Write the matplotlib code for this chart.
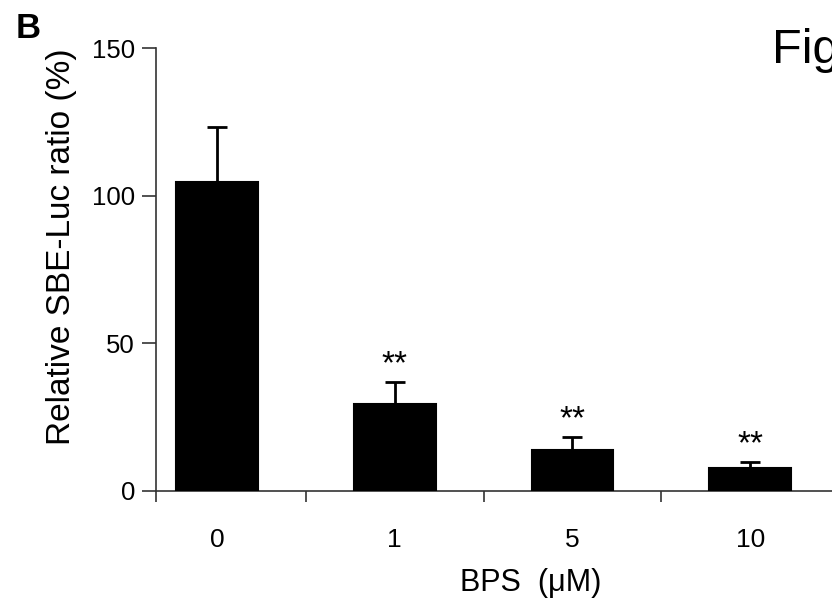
"""
Bar chart of relative SBE-Luc ratio vs BPS concentration (panel B).
"""
import matplotlib
matplotlib.use("Agg")
import matplotlib.pyplot as plt

plt.rcParams['font.family'] = ['Liberation Sans', 'DejaVu Sans']

# data
doses = ['0', '1', '5', '10']
ratio = [104.7, 29.3, 13.8, 7.6]
err = [18.7, 7.6, 4.3, 2.0]
signif = ['', '**', '**', '**']

fig = plt.figure(figsize=(8.32, 6.05), dpi=100)
ax = fig.add_axes([0.1875, 0.189, 0.8125, 0.731])

x = list(range(len(doses)))
ax.bar(x, ratio, width=0.46, color='black', edgecolor='black', linewidth=1.5, zorder=3)
ax.errorbar(x, ratio, yerr=[[0] * len(err), err], fmt='none', ecolor='black',
            elinewidth=2, capsize=7, capthick=2, zorder=2)

for xi, v, e, s in zip(x, ratio, err, signif):
    if s:
        ax.text(xi, v + e + 3, s, ha='center', va='baseline', fontsize=24)

ax.set_xlim(-0.343, 3.46)
ax.set_ylim(0, 150)
ax.set_yticks([0, 50, 100, 150])
ax.set_xticks(x)
ax.set_xticklabels(doses)
ax.set_xticks([-0.343, 0.5, 1.5, 2.5], minor=True)

# axis styling
for side in ['top', 'right']:
    ax.spines[side].set_visible(False)
for side in ['left', 'bottom']:
    ax.spines[side].set_color('#333333')
    ax.spines[side].set_linewidth(1.2)
ax.tick_params(axis='y', direction='out', length=10, width=1.2, color='#333333',
               labelsize=18.5, pad=5)
ax.tick_params(axis='x', which='major', length=0, labelsize=19, pad=27)
ax.tick_params(axis='x', which='minor', direction='out', length=8, width=1.2,
               color='#333333')

ax.set_ylabel('Relative SBE-Luc ratio (%)', fontsize=24)
ax.yaxis.set_label_coords(-0.117, 0.551)
fig.text(531 / 832, 1 - 583 / 605, 'BPS  (\u03bcM)', ha='center', va='center',
         fontsize=22)

fig.text(16 / 832, 1 - 38 / 605, 'B', fontsize=25, fontweight='bold',
         ha='left', va='baseline')
fig.text(772 / 832, 1 - 63 / 605, 'Fig', fontsize=35, ha='left', va='baseline')

fig.savefig('out.png', dpi=100)
